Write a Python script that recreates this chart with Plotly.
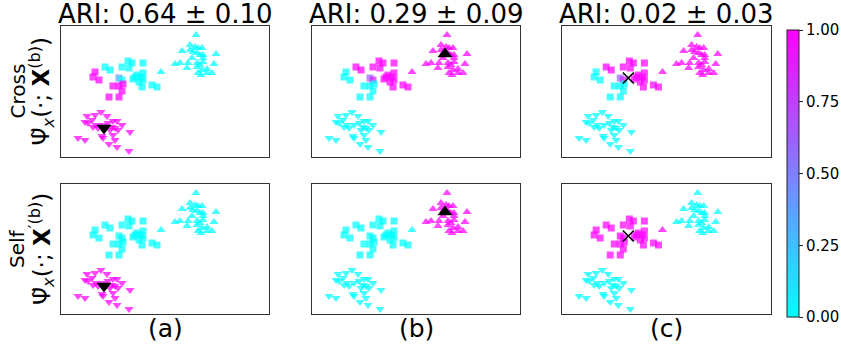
import plotly.graph_objects as go

W, H = 841, 345

# ---- data (panel-relative coordinates, shared by all panels) ----
sq_x = [44, 49, 61, 67, 71, 82, 68, 82, 76, 80, 72, 82, 81, 91, 96,
        34, 32, 38, 58, 61, 52, 58, 62, 61, 48, 58, 78, 74]
sq_y = [41, 44, 41, 35, 37, 37, 42, 47, 49, 51, 53, 54, 61, 59, 61,
        46, 51, 54, 52, 54, 60, 60, 58, 65, 71, 71, 56, 51]

tu_x = [135, 121, 129, 134, 137, 141, 132, 136, 139, 142, 155, 114, 119, 127, 131,
        136, 139, 142, 126, 136, 141, 146, 153, 151, 146, 140, 129, 142, 137, 100]
tu_y = [9, 25, 19, 21, 22, 22, 26, 27, 29, 29, 28, 38, 37, 37, 32,
        37, 39, 36, 42, 41, 44, 43, 38, 47, 47, 49, 24, 32, 47, 46]

td_x = [40, 26, 34, 46, 24, 31, 27, 35, 42, 47, 52, 56, 61, 54, 49,
        57, 69, 17, 24, 41, 42, 52, 54, 48, 56, 68, 32, 37, 51]
td_y = [86, 90, 89, 90, 96, 94, 97, 99, 99, 97, 95, 95, 99, 102, 104,
        104, 106, 112, 114, 110, 112, 109, 114, 118, 121, 125, 101, 102, 101]

# ---- colour values per panel ----
a_cross_sq = [0]*15 + [1, 1, 1, 0.35, 0, 1, 1, 1, 1, 1, 1, 0, 0]
a_self_sq = [0]*28
b_cross_sq = [1]*15 + [0, 0, 0, 0.6, 0.85, 0, 0, 0, 0, 0, 0, 1, 1]
b_self_sq = [0]*28
c_cross_sq = [1]*15 + [0, 0, 0, 0.6, 0.85, 0, 0, 0, 0, 0, 0, 1, 1]
c_self_sq = [1]*28

a_cross_tu = [0]*30
a_self_tu = [0]*30
b_cross_tu = [1]*30
b_self_tu = [1]*29 + [0]
c_cross_tu = [1]*30
c_self_tu = [0]*29 + [1]

a_cross_td = [1]*29
a_self_td = [1]*29
b_cross_td = [0]*29
b_self_td = [0]*29
c_cross_td = [0]*29
c_self_td = [0]*29

# highlighted query point per column
query_x = [43, 133, 66]
query_y = [102, 28, 52]
query_symbol = ["triangle-down", "triangle-up", "x-thin"]

titles = ["ARI: 0.64 ± 0.10", "ARI: 0.29 ± 0.09", "ARI: 0.02 ± 0.03"]
col_labels = ["(a)", "(b)", "(c)"]
row_names = ["Cross", "Self"]
row_formulas = ["Ψ̃<sub><i>x</i></sub>(·; <b>X</b><sup>(b)</sup>)",
                "Ψ̃<sub><i>x</i></sub>(·; <b>X</b><sup>′(b)</sup>)"]
cbar_ticks = [0, 0.25, 0.5, 0.75, 1.0]
cbar_text = ["0.00", "0.25", "0.50", "0.75", "1.00"]

vals = {
    (0, 0): (a_cross_sq, a_cross_tu, a_cross_td),
    (1, 0): (a_self_sq, a_self_tu, a_self_td),
    (0, 1): (b_cross_sq, b_cross_tu, b_cross_td),
    (1, 1): (b_self_sq, b_self_tu, b_self_td),
    (0, 2): (c_cross_sq, c_cross_tu, c_cross_td),
    (1, 2): (c_self_sq, c_self_tu, c_self_td),
}

cool = [[0, "#00ffff"], [1, "#ff00ff"]]
FONT = "DejaVu Sans"

col_px = [(61, 269), (312, 520), (562, 771)]
row_px = [(26, 157), (184, 314)]

fig = go.Figure()
layout = {}
first = True
for r in range(2):
    for c in range(3):
        idx = r * 3 + c + 1
        xa = "x" if idx == 1 else f"x{idx}"
        ya = "y" if idx == 1 else f"y{idx}"
        sq, tu, td = vals[(r, c)]
        for xs, ys, v, sym, sz in [(sq_x, sq_y, sq, "square", 7),
                                   (tu_x, tu_y, tu, "triangle-up", 8),
                                   (td_x, td_y, td, "triangle-down", 8)]:
            mk = dict(symbol=sym, size=sz, color=v, colorscale=cool, cmin=0, cmax=1,
                      opacity=0.72, line=dict(width=0))
            if first:
                mk.update(showscale=True, colorbar=dict(
                    x=787 / W, xanchor="left", xref="paper", xpad=0, ypad=0,
                    y=1 - (30 + 317) / 2 / H, yanchor="middle", len=287 / H,
                    lenmode="fraction", thickness=12, outlinecolor="#222",
                    outlinewidth=1, tickvals=cbar_ticks, ticktext=cbar_text,
                    ticks="outside", ticklen=4, tickcolor="#222",
                    tickfont=dict(family=FONT, size=15, color="black")))
                first = False
            fig.add_trace(go.Scatter(x=xs, y=ys, mode="markers", marker=mk,
                                     xaxis=xa, yaxis=ya, showlegend=False,
                                     hoverinfo="skip"))
        qs = query_symbol[c]
        if qs == "x-thin":
            qm = dict(symbol="x-thin", size=11, color="black",
                      line=dict(width=1.6, color="black"))
        else:
            qm = dict(symbol=qs, size=13, color="black", line=dict(width=0))
        fig.add_trace(go.Scatter(x=[query_x[c]], y=[query_y[c]], mode="markers",
                                 marker=qm, xaxis=xa, yaxis=ya, showlegend=False,
                                 hoverinfo="skip"))
        x0, x1 = col_px[c]
        y0, y1 = row_px[r]
        axstyle = dict(showgrid=False, zeroline=False, showticklabels=False,
                       ticks="", showline=True, linecolor="#333", linewidth=1,
                       mirror=True)
        layout["xaxis" if idx == 1 else f"xaxis{idx}"] = dict(
            domain=[x0 / W, x1 / W], range=[0, 208], anchor=ya, **axstyle)
        layout["yaxis" if idx == 1 else f"yaxis{idx}"] = dict(
            domain=[1 - y1 / H, 1 - y0 / H], range=[y1 - y0, 0], anchor=xa, **axstyle)

ann = []
for c in range(3):
    cx = (col_px[c][0] + col_px[c][1]) / 2 / W
    ann.append(dict(text=titles[c], x=cx, y=1 - 14 / H, xref="paper", yref="paper",
                    showarrow=False, xanchor="center", yanchor="middle",
                    font=dict(family=FONT, size=26, color="black")))
    ann.append(dict(text=col_labels[c], x=cx, y=1 - 328 / H, xref="paper", yref="paper",
                    showarrow=False, xanchor="center", yanchor="middle",
                    font=dict(family=FONT, size=25, color="black")))
for r in range(2):
    cy = 1 - (row_px[r][0] + row_px[r][1]) / 2 / H
    ann.append(dict(text=row_names[r], x=17 / W, y=cy, xref="paper", yref="paper",
                    showarrow=False, xanchor="center", yanchor="middle", textangle=-90,
                    font=dict(family=FONT, size=20, color="black")))
    ann.append(dict(text=row_formulas[r], x=41 / W, y=cy, xref="paper", yref="paper",
                    showarrow=False, xanchor="center", yanchor="middle", textangle=-90,
                    font=dict(family=FONT, size=23, color="black")))

fig.update_layout(width=W, height=H, margin=dict(l=0, r=0, t=0, b=0),
                  paper_bgcolor="white", plot_bgcolor="white",
                  annotations=ann, **layout)
fig.write_html("out.html", config={"displayModeBar": False},
               post_script="document.body.style.margin='0';")
